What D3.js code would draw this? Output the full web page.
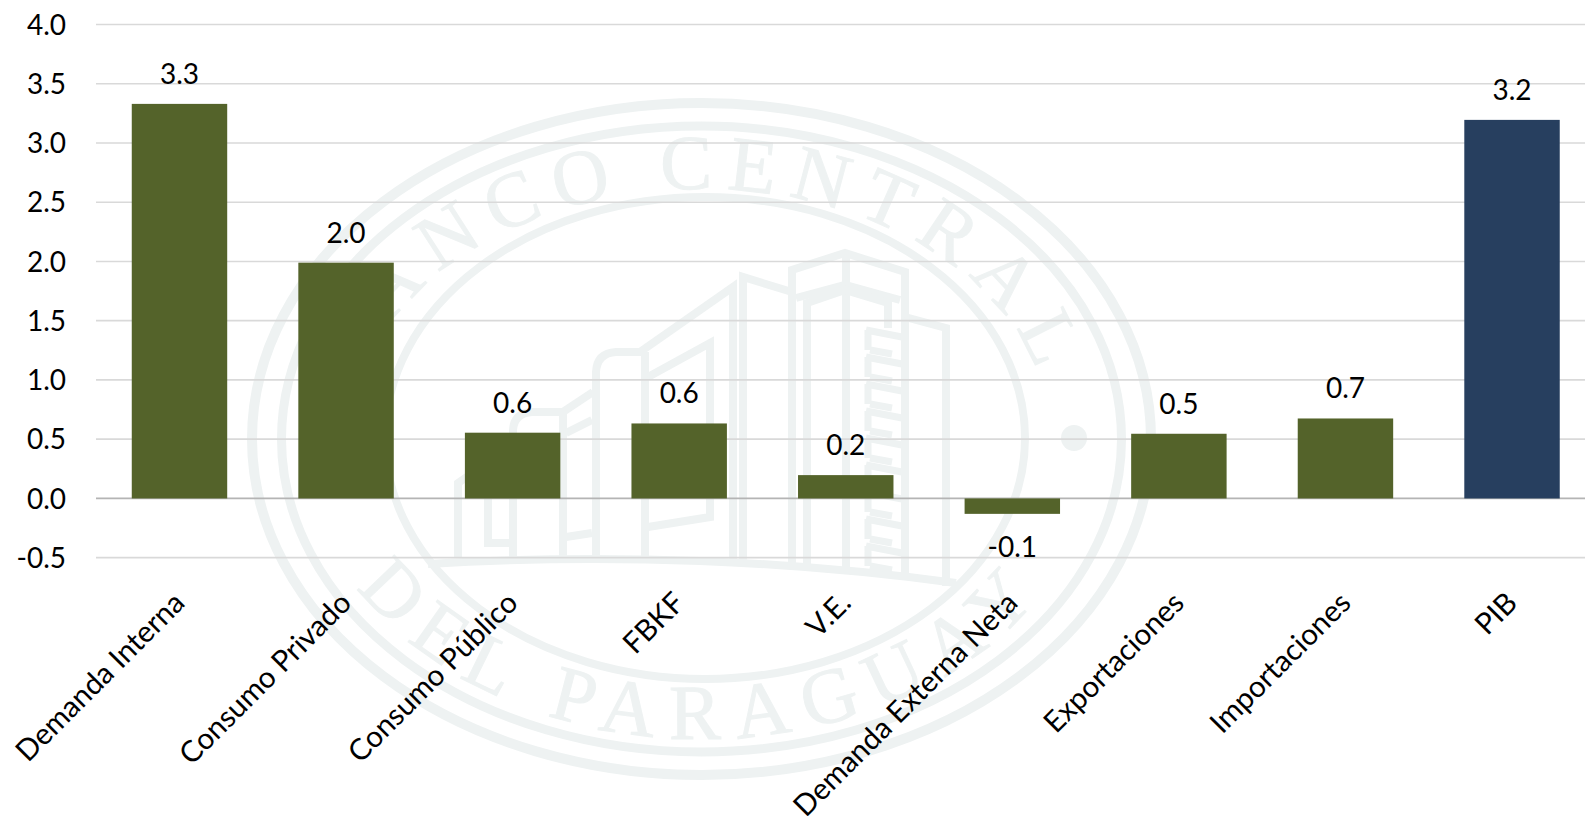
<!DOCTYPE html>
<html>
<head>
  <meta charset="utf-8">
  <title>PIB - incidencias</title>
  <script src="https://d3js.org/d3.v7.min.js"></script>
  <style>
    body {
      margin: 0;
      padding: 0;
      background-color: white;
      overflow: hidden;
    }
    text {
      font-family: Lato, "Open Sans", sans-serif;
      fill: black;
    }
    .axis text, .bar-label {
      font-size: 28px;
    }
    .x-axis text {
      font-size: 29.5px;
    }
    .grid line {
      stroke: #d9d9d9;
      stroke-width: 1.7px;
    }
    .seal {
      fill: none;
      stroke: #eef2f2;
    }
    .seal-text {
      font-family: "Liberation Serif", serif;
      fill: #eef2f2;
      stroke: #eef2f2;
      stroke-width: 1px;
    }
  </style>
</head>
<body>

  <div id="chart"></div>

  <script>
    // Data
    var categories = ["Demanda Interna", "Consumo Privado", "Consumo Público", "FBKF", "V.E.",
                      "Demanda Externa Neta", "Exportaciones", "Importaciones", "PIB"];
    var values = [3.33, 1.99, 0.555, 0.633, 0.197, -0.13, 0.546, 0.675, 3.195];
    var yTicks = [-0.5, 0, 0.5, 1, 1.5, 2, 2.5, 3, 3.5, 4];

    var width = 1585,
        height = 816;

    var svg = d3.select("#chart")
      .append("svg")
        .attr("width", width)
        .attr("height", height)
        .style("display", "block");

    // Scales
    var x = d3.scaleBand()
        .domain(categories)
        .range([96.2, 1595.3])
        .paddingInner(0.427)
        .paddingOuter(0.2135);

    var y = d3.scaleLinear()
        .domain([-0.5, 4])
        .range([557.7, 24.5]);

    // Watermark seal behind the chart
    var seal = svg.append("g");
    var cx = 701.5;

    seal.append("ellipse").attr("class", "seal")
        .attr("cx", cx).attr("cy", 439).attr("rx", 449.5).attr("ry", 336).attr("stroke-width", 10);
    seal.append("ellipse").attr("class", "seal")
        .attr("cx", cx).attr("cy", 439).attr("rx", 420).attr("ry", 313).attr("stroke-width", 9);
    seal.append("ellipse").attr("class", "seal")
        .attr("cx", 705).attr("cy", 438).attr("rx", 320).attr("ry", 241).attr("stroke-width", 8);
    seal.append("circle")
        .attr("cx", 1074).attr("cy", 438).attr("r", 13).attr("fill", "#eef2f2");

    // Buildings
    var buildings = [
      "M428,564 Q560,556 700,561 Q830,566 956,583",
      "M458,557 V483 L513,445",
      "M488,498 V543 H512",
      "M513,557 V430 Q514,413 532,412 H563",
      "M563,557 V412 L593,392",
      "M566,433 L592,420",
      "M566,537 L592,533",
      "M596,557 V372 Q597,353 616,352 H640 L733,287 V560",
      "M645,557 V352",
      "M648,377 L710,343 V517 L648,527",
      "M743,560 V277 L792,292",
      "M792,565 V270 L845,253 L905,272 V578",
      "M796,298 L845,285 L900,300",
      "M846,570 V253",
      "M807,566 V303 L845,290 L888,303 V328",
      "M905,317 L946,328 V586"
    ];
    seal.selectAll(".building")
        .data(buildings)
      .enter().append("path")
        .attr("class", "seal")
        .attr("d", function(d) { return d; })
        .attr("stroke-width", 8);

    // Ladder of windows on the tall tower
    var ladder = d3.range(330, 570, 27);
    seal.selectAll(".slat")
        .data(ladder)
      .enter().append("path")
        .attr("class", "seal")
        .attr("d", function(d) {
          return "M866," + d + " L902," + (d + 7) + " M870," + (d + 20) + " L892," + (d + 24) + " M868," + d + " V" + (d + 20);
        })
        .attr("stroke-width", 7);

    // Seal text along arcs
    var defs = svg.append("defs");
    defs.append("path").attr("id", "arc-top")
        .attr("d", "M351,440 A350,251 0 0 1 1051,440");
    defs.append("path").attr("id", "arc-bottom")
        .attr("d", "M306,440 A396,299 0 0 0 1098,440");

    seal.append("text").attr("class", "seal-text")
        .style("font-size", "78px")
        .style("letter-spacing", "14px")
      .append("textPath")
        .attr("href", "#arc-top")
        .attr("startOffset", "50%")
        .attr("text-anchor", "middle")
        .text("BANCO CENTRAL");

    seal.append("text").attr("class", "seal-text")
        .style("font-size", "78px")
        .style("letter-spacing", "16px")
      .append("textPath")
        .attr("href", "#arc-bottom")
        .attr("startOffset", "50%")
        .attr("text-anchor", "middle")
        .text("DEL PARAGUAY");

    // Gridlines and Y axis
    var yAxis = svg.append("g")
        .attr("class", "axis grid")
        .attr("transform", "translate(96,0)")
        .call(d3.axisLeft(y)
          .tickValues(yTicks)
          .tickSize(-(width - 96))
          .tickPadding(30)
          .tickFormat(function(d) { return d.toFixed(1); })
          .offset(0));
    yAxis.select(".domain").remove();
    yAxis.selectAll("line")
        .style("stroke", function(d) { return d === 0 ? "#b4b4b4" : null; });
    yAxis.selectAll("text").attr("dy", "0.36em");

    // Category labels
    var xAxis = svg.append("g")
        .attr("class", "axis x-axis")
        .attr("transform", "translate(0," + y(-0.5) + ")")
        .call(d3.axisBottom(x).tickSize(0).offset(0));
    xAxis.select(".domain").remove();
    xAxis.selectAll("text")
        .attr("y", 0)
        .attr("dy", 0)
        .style("text-anchor", "end")
        .attr("transform", "translate(7,47) rotate(-45)");

    // Bars
    svg.selectAll(".bar")
        .data(values)
      .enter().append("rect")
        .attr("class", "bar")
        .attr("x", function(d, i) { return x(categories[i]); })
        .attr("y", function(d) { return y(Math.max(d, 0)); })
        .attr("width", x.bandwidth())
        .attr("height", function(d) { return Math.abs(y(d) - y(0)); })
        .attr("fill", function(d, i) { return categories[i] === "PIB" ? "#273f5f" : "#54632a"; });

    // Value labels
    svg.selectAll(".bar-label")
        .data(values)
      .enter().append("text")
        .attr("class", "bar-label")
        .attr("x", function(d, i) { return x(categories[i]) + x.bandwidth() / 2; })
        .attr("y", function(d) { return d < 0 ? y(d) + 43 : y(d) - 20; })
        .attr("text-anchor", "middle")
        .text(function(d) { return d.toFixed(1); });
  </script>

</body>
</html>
